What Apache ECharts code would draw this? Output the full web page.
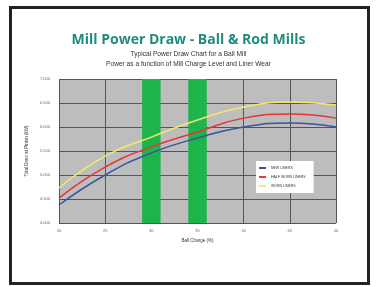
<!DOCTYPE html>
<html>
<head>
<meta charset="utf-8">
<script src="https://cdn.jsdelivr.net/npm/echarts@6/dist/echarts.min.js"></script>
<style>
html, body { margin: 0; padding: 0; background: #fff; }
#main { width: 377px; height: 287px; }
</style>
</head>
<body>
<div id="main"></div>
<script>
// ball charge level (%) and power draw (kW) per liner condition
var charge = [20, 25, 30, 35, 40, 45, 50];
var newLiners = [4375, 5000, 5460, 5770, 6000, 6085, 6000];
var halfWorn = [4520, 5165, 5585, 5895, 6185, 6270, 6185];
var worn = [4730, 5395, 5790, 6145, 6415, 6520, 6460];
var bands = [[29, 31], [34, 36]];
var names = ['NEW LINERS', 'HALF WORN LINERS', 'WORN LINERS'];

var chart = echarts.init(document.getElementById('main'));

function pairs(vals) {
    return charge.map(function (c, i) { return [c, vals[i]]; });
}

option = {
    animation: false,
    textStyle: { fontFamily: 'Liberation Sans' },
    title: [
        {
            text: 'Mill Power Draw - Ball & Rod Mills',
            left: 'center',
            top: 28,
            textStyle: { color: '#1f8c7c', fontSize: 14, fontWeight: 'bold', fontFamily: 'Open Sans' }
        },
        {
            text: 'Typical Power Draw Chart for a Ball Mill',
            left: 'center',
            top: 46,
            textStyle: { color: '#333', fontSize: 6.6, fontWeight: 'normal' }
        },
        {
            text: 'Power as a function of Mill Charge Level and Liner Wear',
            left: 'center',
            top: 56,
            textStyle: { color: '#333', fontSize: 6.6, fontWeight: 'normal' }
        }
    ],
    graphic: [
        {
            type: 'rect',
            shape: { x: 10.5, y: 7.5, width: 358, height: 276 },
            style: { fill: 'none', stroke: '#222', lineWidth: 3 }
        }
    ],
    legend: {
        data: names,
        orient: 'vertical',
        left: 256,
        top: 161,
        backgroundColor: '#fff',
        padding: [5, 8, 5, 3],
        itemGap: 5,
        itemWidth: 7,
        itemHeight: 2,
        icon: 'rect',
        textStyle: { fontSize: 3.5, color: '#333' }
    },
    grid: { left: 59, right: 41, top: 79, bottom: 64 },
    xAxis: {
        type: 'value',
        min: 20,
        max: 50,
        interval: 5,
        name: 'Ball Charge (%)',
        nameLocation: 'middle',
        nameGap: 13,
        nameTextStyle: { fontSize: 4.5, color: '#333' },
        axisLine: { show: false },
        axisTick: { show: false },
        axisLabel: { fontSize: 4, color: '#666', margin: 6 },
        splitLine: { show: true, lineStyle: { color: '#555', width: 1 } }
    },
    yAxis: {
        type: 'value',
        min: 4000,
        max: 7000,
        interval: 500,
        name: 'Total Draw at Pinion (kW)',
        nameLocation: 'middle',
        nameGap: 21,
        nameTextStyle: { fontSize: 4.5, color: '#333' },
        axisLine: { show: false },
        axisTick: { show: false },
        axisLabel: { fontSize: 4, color: '#666', margin: 9 },
        splitLine: { show: true, lineStyle: { color: '#555', width: 1 } },
        splitArea: { show: true, areaStyle: { color: ['#bdbdbd'] } }
    },
    series: [
        {
            name: names[0],
            type: 'line',
            smooth: true,
            showSymbol: false,
            data: pairs(newLiners),
            lineStyle: { color: '#3a559f', width: 1.5 },
            itemStyle: { color: '#3a559f' }
        },
        {
            name: names[1],
            type: 'line',
            smooth: true,
            showSymbol: false,
            data: pairs(halfWorn),
            lineStyle: { color: '#e8333c', width: 1.5 },
            itemStyle: { color: '#e8333c' }
        },
        {
            name: names[2],
            type: 'line',
            smooth: true,
            showSymbol: false,
            data: pairs(worn),
            lineStyle: { color: '#f2ea6a', width: 1.5 },
            itemStyle: { color: '#f2ea6a' }
        },
        {
            name: 'bands',
            type: 'line',
            data: [],
            z: 10,
            markArea: {
                silent: true,
                itemStyle: { color: '#1db44b', opacity: 1 },
                data: bands.map(function (b) { return [{ xAxis: b[0] }, { xAxis: b[1] }]; })
            }
        }
    ]
};

chart.setOption(option);
</script>
</body>
</html>
